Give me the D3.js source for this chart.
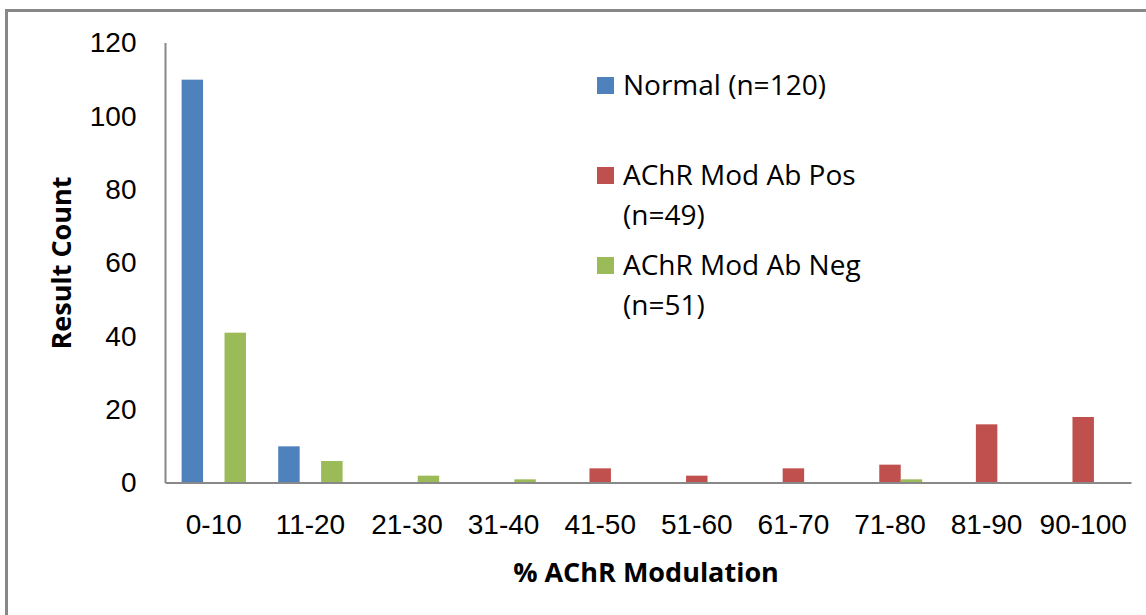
<!DOCTYPE html>
<meta charset="utf-8">
<style>
  body{ margin:0; padding:0; background:#fff; }
  svg{ display:block; font-family:"Open Sans", sans-serif; }
  .axis text{ font-size:28px; fill:#000; }
  .axis path{ stroke:#888; stroke-width:2; }
</style>
<svg id="chart" width="1146" height="615"></svg>
<script src="https://cdn.jsdelivr.net/npm/d3@7"></script>
<script>
  // data
  let categories = ['0-10', '11-20', '21-30', '31-40', '41-50', '51-60', '61-70', '71-80', '81-90', '90-100'];
  let seriesNames = ['Normal (n=120)', 'AChR Mod Ab Pos\n(n=49)', 'AChR Mod Ab Neg\n(n=51)'];
  let normal = [110, 10, 0, 0, 0, 0, 0, 0, 0, 0];
  let modPos = [0, 0, 0, 0, 4, 2, 4, 5, 16, 18];
  let modNeg = [41, 6, 2, 1, 0, 0, 0, 1, 0, 0];
  let yTicks = [0, 20, 40, 60, 80, 100, 120];
  let colors = ['#4F81BD', '#C0504D', '#9BBB59'];

  let series = [normal, modPos, modNeg];

  let svg = d3.select('#chart');

  // frame (left + top edges only)
  svg.append('path')
    .attr('d', 'M6.5,615V10.5H1146')
    .attr('fill', 'none')
    .attr('stroke', '#888')
    .attr('stroke-width', 3);

  let x0 = d3.scaleBand()
    .domain(categories)
    .range([165.5, 1131.5])
    .paddingInner(1 / 3)
    .paddingOuter(1 / 6);

  let x1 = d3.scaleBand()
    .domain(d3.range(series.length))
    .range([0, x0.bandwidth()]);

  let y = d3.scaleLinear()
    .domain([0, 120])
    .range([483, 43]);

  // bars
  let groups = svg.append('g')
    .selectAll('g')
    .data(series)
    .enter()
    .append('g')
      .attr('fill', (d, i) => colors[i]);

  groups.each(function (vals, si) {
    d3.select(this)
      .selectAll('rect')
      .data(vals.map((v, ci) => ({ v, c: categories[ci] })))
      .enter()
      .filter(d => d.v > 0)
      .append('rect')
        .attr('x', d => x0(d.c) + x1(si))
        .attr('width', x1.bandwidth())
        .attr('y', d => y(d.v))
        .attr('height', d => y(0) - y(d.v));
  });

  // y axis
  let yAxis = svg.append('g')
    .attr('class', 'axis')
    .attr('transform', 'translate(165.5,0)')
    .call(d3.axisLeft(y).tickValues(yTicks).tickSize(0).tickPadding(29));
  yAxis.select('.domain').attr('d', `M0,${y(120)}V${y(0)}`);

  // x axis
  let xAxis = svg.append('g')
    .attr('class', 'axis')
    .attr('transform', `translate(0,${y(0)})`)
    .call(d3.axisBottom(x0).tickSize(0).tickPadding(31));
  xAxis.select('.domain').attr('d', 'M165.5,0H1131.5');

  // axis titles
  svg.append('text')
    .attr('x', 646)
    .attr('y', 582)
    .attr('text-anchor', 'middle')
    .attr('font-size', 27)
    .attr('font-weight', 'bold')
    .text('% AChR Modulation');

  svg.append('text')
    .attr('transform', 'translate(71,263) rotate(-90)')
    .attr('text-anchor', 'middle')
    .attr('font-size', 27)
    .attr('font-weight', 'bold')
    .text('Result Count');

  // legend
  let legendY = [77, 167, 257];
  let legend = svg.append('g')
    .selectAll('g')
    .data(seriesNames)
    .enter()
    .append('g')
      .attr('transform', (d, i) => `translate(597,${legendY[i]})`);

  legend.append('rect')
    .attr('width', 17)
    .attr('height', 17)
    .attr('fill', (d, i) => colors[i]);

  legend.append('text')
    .attr('font-size', 28)
    .selectAll('tspan')
    .data(d => d.split('\n'))
    .enter()
    .append('tspan')
      .attr('x', 26)
      .attr('y', (d, i) => 18 + i * 40)
      .text(d => d);
</script>
